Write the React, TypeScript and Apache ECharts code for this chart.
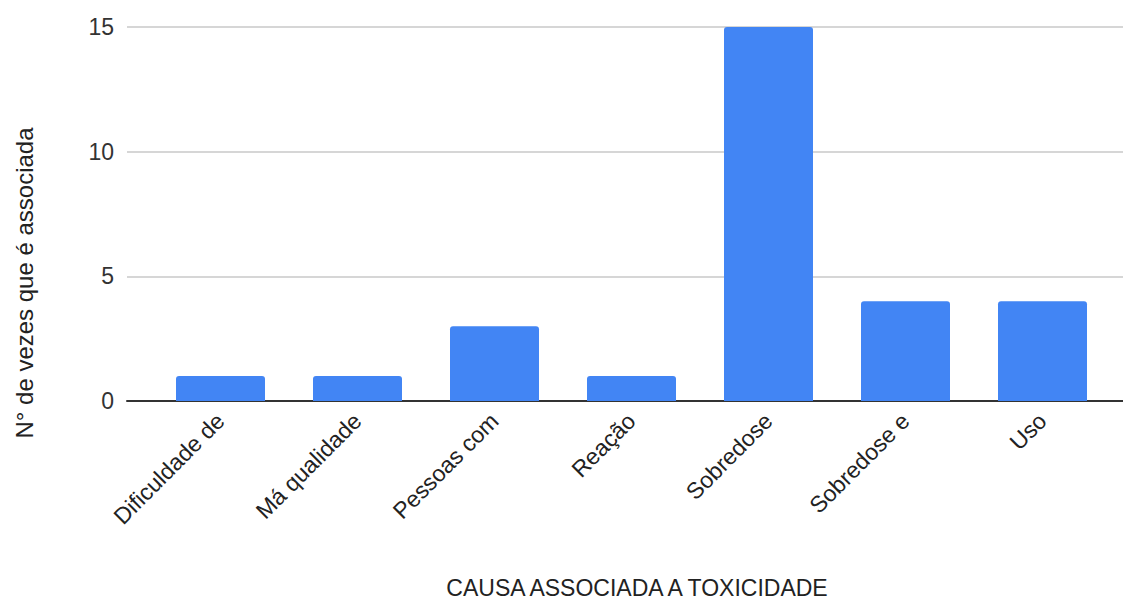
import React, { useEffect, useRef } from "react";
import * as echarts from "echarts";

// Causes and how many times each one is associated with toxicity
const categories = [
  "Dificuldade de",
  "Má qualidade",
  "Pessoas com",
  "Reação",
  "Sobredose",
  "Sobredose e",
  "Uso",
];
const counts = [1, 1, 3, 1, 15, 4, 4];
const yTicks = { min: 0, max: 15, interval: 5 };
const xTitle = "CAUSA ASSOCIADA A TOXICIDADE";
const yTitle = "N° de vezes que é associada";

const FONT = "'Liberation Sans', Arial, sans-serif";

export default function App() {
  const ref = useRef<HTMLDivElement>(null);

  useEffect(() => {
    if (!ref.current) return;
    const chart = echarts.init(ref.current, null, { renderer: "svg" });
    chart.setOption({
      animation: false,
      backgroundColor: "#ffffff",
      textStyle: { fontFamily: FONT },
      grid: [
        // full-width frame carrying the value axis, gridlines and baseline
        { left: 127, right: 0, top: 27, height: 374 },
        // inner band area holding the bars
        { left: 152, width: 959, top: 27, height: 374 },
      ],
      xAxis: [
        {
          type: "value",
          gridIndex: 0,
          min: 0,
          max: 1,
          axisLine: { show: true, lineStyle: { color: "#333333", width: 2 } },
          axisTick: { show: false },
          axisLabel: { show: false },
          splitLine: { show: false },
        },
        {
          type: "category",
          gridIndex: 1,
          data: categories,
          axisLine: { show: false },
          axisTick: { show: false },
          axisLabel: {
            rotate: 45,
            interval: 0,
            margin: 16,
            fontSize: 23,
            color: "#222222",
            fontFamily: FONT,
          },
        },
      ],
      yAxis: [
        {
          type: "value",
          gridIndex: 0,
          min: yTicks.min,
          max: yTicks.max,
          interval: yTicks.interval,
          axisLine: { show: false },
          axisTick: { show: false },
          axisLabel: { fontSize: 23, color: "#333333", margin: 13, fontFamily: FONT },
          splitLine: { lineStyle: { color: "#d6d6d6", width: 2 } },
        },
        {
          type: "value",
          gridIndex: 1,
          min: yTicks.min,
          max: yTicks.max,
          show: false,
        },
      ],
      series: [
        {
          type: "bar",
          xAxisIndex: 1,
          yAxisIndex: 1,
          data: counts,
          barWidth: 89,
          itemStyle: { color: "#4285f4", borderRadius: [3, 3, 0, 0] },
        },
      ],
      graphic: [
        {
          type: "text",
          x: 24,
          y: 283,
          rotation: Math.PI / 2,
          style: {
            text: yTitle,
            fontSize: 24,
            fontFamily: FONT,
            fill: "#222222",
            align: "center",
            verticalAlign: "middle",
          },
        },
        {
          type: "text",
          x: 637,
          y: 588,
          style: {
            text: xTitle,
            fontSize: 23,
            fontFamily: FONT,
            fill: "#222222",
            align: "center",
            verticalAlign: "middle",
          },
        },
      ],
    });
    return () => chart.dispose();
  }, []);

  return (
    <div
      ref={ref}
      style={{ width: 1123, height: 603, position: "fixed", left: 0, top: 0 }}
    />
  );
}
